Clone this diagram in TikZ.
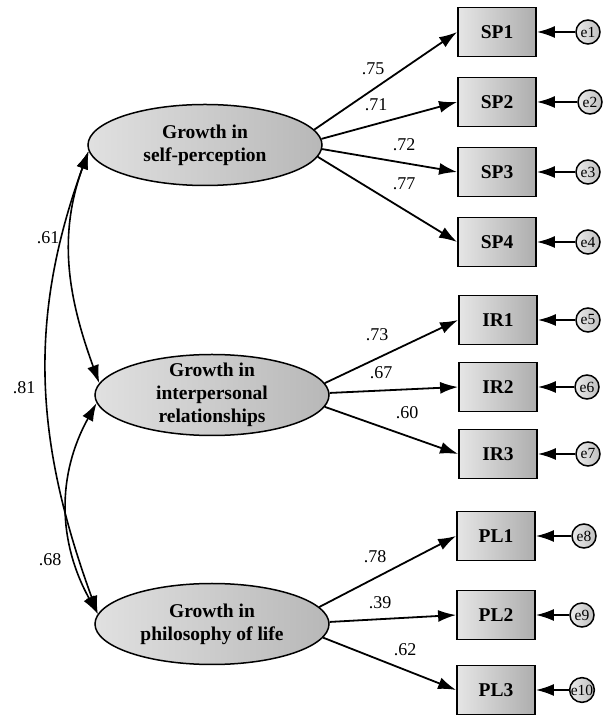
\documentclass[tikz,border=0pt]{standalone}
\usepackage{fontspec}
\setmainfont{Liberation Serif}
\usetikzlibrary{shapes.geometric,arrows.meta}
\begin{document}
\begin{tikzpicture}[x=1pt,y=1pt,
  latent/.style={ellipse,draw=black,line width=1.5pt,minimum width=234pt,minimum height=81pt,inner sep=0pt,
    left color=black!12,right color=black!28},
  lattext/.style={align=center,inner sep=0pt,font=\fontsize{19.5}{23}\selectfont\bfseries},
  obs/.style={rectangle,draw=black,line width=1.8pt,minimum width=78pt,minimum height=49pt,inner sep=0pt,
    left color=black!10,right color=black!32,font=\fontsize{19.5}{23}\selectfont\bfseries},
  err/.style={circle,draw=black,line width=1.5pt,minimum size=24pt,inner sep=0pt,
    left color=black!8,right color=black!25,font=\fontsize{15.5}{15.5}\selectfont},
  arr/.style={line width=1.8pt,-{Latex[length=18pt,width=12pt]}},
  cov/.style={line width=1.6pt,{Latex[length=18pt,width=12pt]}-{Latex[length=18pt,width=12pt]}},
  lbl/.style={inner sep=0pt,font=\fontsize{18}{18}\selectfont}
]
\useasboundingbox (0,0) rectangle (606,715);

% latent variables
\node[latent] (ell1) at (205,570) {};
\node[lattext] (t1) at (ell1) {Growth in\\self-perception};
\node[latent] (ell2) at (212,320) {};
\node[lattext] (t2) at (ell2) {Growth in\\interpersonal\\relationships};
\node[latent] (ell3) at (212,91) {};
\node[lattext] (t3) at (ell3) {Growth in\\philosophy of life};

% observed
\node[obs] (SP1) at (497,683) {SP1};
\node[obs] (SP2) at (497,613) {SP2};
\node[obs] (SP3) at (497,543) {SP3};
\node[obs] (SP4) at (497,473) {SP4};
\node[obs] (IR1) at (498,395) {IR1};
\node[obs] (IR2) at (498,328) {IR2};
\node[obs] (IR3) at (498,261) {IR3};
\node[obs] (PL1) at (496,179) {PL1};
\node[obs] (PL2) at (496,100) {PL2};
\node[obs] (PL3) at (496,25) {PL3};

% errors
\node[err] (e1) at (588,683) {e1};
\node[err] (e2) at (590,613) {e2};
\node[err] (e3) at (588,543) {e3};
\node[err] (e4) at (588,473) {e4};
\node[err] (e5) at (588,395) {e5};
\node[err] (e6) at (587,328) {e6};
\node[err] (e7) at (588,261) {e7};
\node[err] (e8) at (584,179) {e8};
\node[err] (e9) at (582,100) {e9};
\node[err] (e10) at (582,25) {e10};

% error arrows
\foreach \e/\o in {e1/SP1,e2/SP2,e3/SP3,e4/SP4,e5/IR1,e6/IR2,e7/IR3,e8/PL1,e9/PL2,e10/PL3}
  \draw[arr] (\e) -- (\o);

% loadings
\draw[arr] (ell1.8) -- (SP1.west);
\draw[arr] (ell1.3) -- (SP2.west);
\draw[arr] (ell1.-2) -- (SP3.west);
\draw[arr] (ell1.-6) -- (SP4.west);
\draw[arr] (ell2.6) -- (IR1.west);
\draw[arr] (ell2.1) -- (IR2.west);
\draw[arr] (ell2.-6) -- (IR3.west);
\draw[arr] (ell3.9) -- (PL1.west);
\draw[arr] (ell3.1) -- (PL2.west);
\draw[arr] (ell3.-7) -- (PL3.west);

\node[lbl] (l1) at (373,646) {.75};
\node[lbl] (l2) at (376,610) {.71};
\node[lbl] (l3) at (404,570) {.72};
\node[lbl] (l4) at (404,531) {.77};
\node[lbl] (l5) at (377,380) {.73};
\node[lbl] (l6) at (381,342) {.67};
\node[lbl] (l7) at (407,302) {.60};
\node[lbl] (l8) at (375,158) {.78};
\node[lbl] (l9) at (380,112) {.39};
\node[lbl] (l10) at (405,65) {.62};

% covariances
\draw[cov] (ell1.183) to[out=250,in=110] (ell2.174);
\draw[cov] (ell1.183) to[out=250,in=110] (ell3.175);
\draw[cov] (ell2.184) to[out=241,in=119] (ell3.175);

\node[lbl] (c1) at (48,477) {.61};
\node[lbl] (c2) at (24,327) {.81};
\node[lbl] (c3) at (50,155) {.68};
\end{tikzpicture}
\end{document}
